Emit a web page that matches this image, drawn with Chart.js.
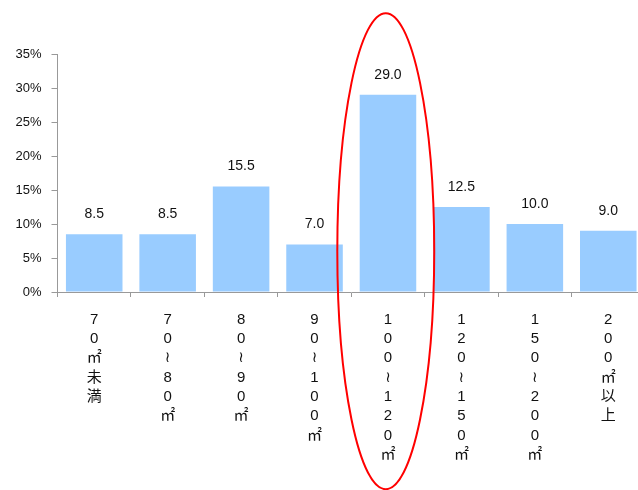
<!DOCTYPE html>
<html>
<head>
<meta charset="utf-8">
<script src="https://cdn.jsdelivr.net/npm/chart.js@4/dist/chart.umd.min.js"></script>
<style>
  html, body { margin: 0; padding: 0; background: #ffffff; overflow: hidden; width: 638px; height: 490px; }
  #wrap { position: absolute; left: 0; top: 0; width: 645px; height: 490px; }
</style>
</head>
<body>
<div id="wrap"><canvas id="c" width="645" height="490"></canvas></div>
<script>
// ---- data ----
const categories = ['70㎡未満', '70～80㎡', '80～90㎡', '90～100㎡', '100～120㎡', '120～150㎡', '150～200㎡', '200㎡以上'];
const shares = [8.5, 8.5, 15.5, 7.0, 29.0, 12.5, 10.0, 9.0];
const yTicks = [0, 5, 10, 15, 20, 25, 30, 35];
const highlightIndex = 4;          // category circled in red
const highlightRange = [-29, 41];  // vertical extent of the red ellipse (value units)

// vertical (tategaki-style) label: one character per line
function verticalLabel(s) {
  return Array.from(s).map(ch => ch === '～' ? '≀' : ch);
}

const valueLabels = {
  id: 'valueLabels',
  afterDatasetsDraw(chart) {
    const ctx = chart.ctx;
    const meta = chart.getDatasetMeta(0);
    ctx.save();
    ctx.font = '14px "Liberation Sans", Arial, sans-serif';
    ctx.fillStyle = '#111';
    ctx.textAlign = 'center';
    ctx.textBaseline = 'middle';
    meta.data.forEach((bar, i) => {
      ctx.fillText(shares[i].toFixed(1), bar.x, bar.y - 20);
    });
    ctx.restore();
  }
};

const highlightEllipse = {
  id: 'highlightEllipse',
  afterDraw(chart) {
    const x = chart.scales.x, y = chart.scales.y;
    const catW = (x.right - x.left) / categories.length;
    const cx = x.getPixelForValue(highlightIndex) - 0.03 * catW;
    const top = y.getPixelForValue(highlightRange[1]);
    const bottom = y.getPixelForValue(highlightRange[0]);
    const ctx = chart.ctx;
    ctx.save();
    ctx.strokeStyle = '#ff0000';
    ctx.lineWidth = 2;
    ctx.beginPath();
    ctx.ellipse(cx, (top + bottom) / 2, 0.66 * catW, (bottom - top) / 2, 0, 0, Math.PI * 2);
    ctx.stroke();
    ctx.restore();
  }
};

new Chart(document.getElementById('c'), {
  type: 'bar',
  data: {
    labels: categories.map(verticalLabel),
    datasets: [{
      data: shares,
      backgroundColor: '#99ccff',
      borderWidth: 0,
      barPercentage: 0.77,
      categoryPercentage: 1.0
    }]
  },
  options: {
    responsive: false,
    animation: false,
    devicePixelRatio: 1,
    layout: { padding: { top: 54, left: 0, right: 0, bottom: 0 } },
    plugins: { legend: { display: false }, tooltip: { enabled: false } },
    scales: {
      x: {
        grid: { display: true, drawOnChartArea: false, drawTicks: true, tickLength: 5, color: '#999', offset: true },
        border: { display: true, color: '#999', width: 1 },
        ticks: {
          color: '#111',
          padding: 13,
          maxRotation: 0,
          autoSkip: false,
          font: { family: '"Liberation Sans", "DejaVu Sans", "Noto Sans CJK JP", sans-serif', size: 15, lineHeight: '19.3px' }
        },
        afterFit(scale) { scale.height = 198; }
      },
      y: {
        min: 0,
        max: 35,
        afterBuildTicks(scale) { scale.ticks = yTicks.map(v => ({ value: v })); },
        grid: { display: true, drawOnChartArea: false, drawTicks: true, tickLength: 6, color: '#999' },
        border: { display: true, color: '#999', width: 1 },
        ticks: {
          color: '#111',
          padding: 10,
          font: { family: '"Liberation Sans", Arial, sans-serif', size: 13 },
          callback: v => v + '%'
        },
        afterFit(scale) { scale.width = 57.5; }
      }
    }
  },
  plugins: [valueLabels, highlightEllipse]
});
</script>
</body>
</html>
